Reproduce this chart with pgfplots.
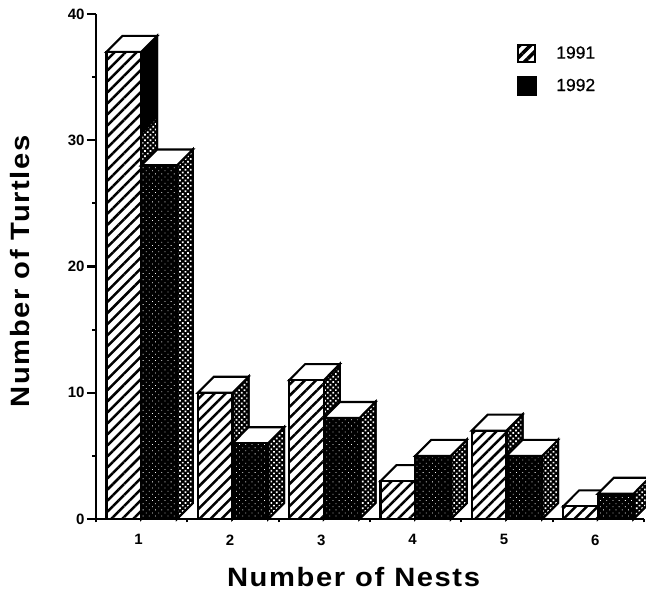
\documentclass[border=0pt]{standalone}
\usepackage{pgfplots}
\pgfplotsset{compat=1.18}
\usepackage{fontspec}
\setmainfont{Liberation Sans}
\newfontfamily\labfont[FakeStretch=1.1,LetterSpace=6]{Liberation Sans Bold}
\newfontfamily\legfont[FakeBold=0.6]{Liberation Sans}
\usetikzlibrary{patterns.meta}
\pgfplotsset{
  edge/.style={draw=black,line width=2.1pt,line join=miter},
  hatchA/.style={edge,fill=white,postaction={pattern={Lines[angle=45,distance=7.8pt,line width=2.5pt]},pattern color=black}},
  darkB/.style={edge,fill=black,postaction={pattern={Dots[angle=45,distance=4.4pt,radius=0.55pt]},pattern color=white}},
  sideS/.style={edge,fill=black,postaction={pattern={Dots[angle=45,distance=3.8pt,radius=1.2pt]},pattern color=white}},
  topT/.style={edge,fill=white},
}
% #1 right edge of the front face, #2 left edge of the front face, #3 value
\newcommand\sidetop[3]{%
  \addplot[sideS,forget plot] coordinates {(#1,0) (#1+0.175,1.27) (#1+0.175,#3+1.27) (#1,#3)} -- cycle;
  \addplot[topT,forget plot] coordinates {(#2,#3) (#1,#3) (#1+0.175,#3+1.27) (#2+0.175,#3+1.27)} -- cycle;
}
\begin{document}
\begin{tikzpicture}[x=1pt,y=1pt]
\useasboundingbox (-96,-78) rectangle (550,519);
\begin{axis}[
  at={(0,0)},anchor=origin,
  scale only axis,width=548pt,height=505pt,
  xmin=0.5,xmax=6.5,ymin=0,ymax=40,
  clip=false,
  axis x line=bottom,axis y line=left,
  axis line style={-,line width=2.1pt},
  tick align=outside,
  xtick={1,2,3,4,5,6},
  minor xtick={0.5,1.5,2.5,3.5,4.5,5.5,6.5},
  ytick={0,10,20,30,40},
  minor ytick={5,15,25,35},
  major tick length=9pt,minor tick length=3.5pt,
  tick style={line width=2.1pt,black},
  major x tick style={draw=none},
  xticklabel style={font=\fontsize{15}{17}\selectfont\bfseries,yshift=-3pt,xshift=-3pt},
  yticklabel style={font=\fontsize{15}{17}\selectfont\bfseries,xshift=1pt},
  /pgf/number format/assume math mode=true,
  xlabel={Number\hspace{10pt}of\hspace{10pt}Nests},
  ylabel={Number\hspace{10pt}of\hspace{10pt}Turtles},
  xlabel style={font=\fontsize{26.5}{29}\labfont,at={(rel axis cs:0.47,0)},anchor=center,yshift=-58pt},
  ylabel style={font=\fontsize{26.5}{29}\labfont,at={(rel axis cs:0,0.49)},anchor=center,rotate=0,yshift=76pt},
  legend style={at={(rel axis cs:0.767,0.943)},anchor=north west,draw=none,fill=none,
    font=\fontsize{17.5}{19}\legfont,row sep=12.5pt,inner sep=0pt,
    /tikz/every even column/.append style={column sep=0pt}},
  legend cell align=left,
]
\addlegendimage{legend image code/.code={
  \draw[draw=black,line width=2.4pt,fill=white,postaction={pattern={Lines[angle=45,distance=7.5pt,line width=3.5pt]},pattern color=black}] (0pt,-8.5pt) rectangle (17pt,8.5pt);
  \path[draw=none] (17pt,0pt) -- (36pt,0pt);}}
\addlegendimage{legend image code/.code={
  \fill[black] (-1pt,-9.5pt) rectangle (18pt,9.5pt);
  \path[draw=none] (17pt,0pt) -- (36pt,0pt);}}
\addlegendentry{1991}
\addlegendentry{1992}

% 1991
\sidetop{0.995}{0.615}{37}
\sidetop{1.995}{1.615}{10}
\sidetop{2.995}{2.615}{11}
\sidetop{3.995}{3.615}{3}
\sidetop{4.995}{4.615}{7}
\sidetop{5.995}{5.615}{1}
\addplot[draw=none,fill=black,forget plot] coordinates {(1.005,37) (1.16,38.2) (1.16,32.2) (1.005,31)} -- cycle;
\addplot[draw=none,fill=black,forget plot] coordinates {(1.005,30.5) (1.16,31.7) (1.16,34) (1.005,33)} -- cycle;
\addplot[hatchA,ybar,bar width=0.38,bar shift=-0.195,forget plot] coordinates {(1,37) (2,10) (3,11) (4,3) (5,7) (6,1)};
% 1992
\sidetop{1.385}{0.995}{28}
\sidetop{2.385}{1.995}{6}
\sidetop{3.385}{2.995}{8}
\sidetop{4.385}{3.995}{5}
\sidetop{5.385}{4.995}{5}
\sidetop{6.385}{5.995}{2}
\addplot[darkB,ybar,bar width=0.39,bar shift=0.19,forget plot] coordinates {(1,28) (2,6) (3,8) (4,5) (5,5) (6,2)};
\end{axis}
\end{tikzpicture}
\end{document}
